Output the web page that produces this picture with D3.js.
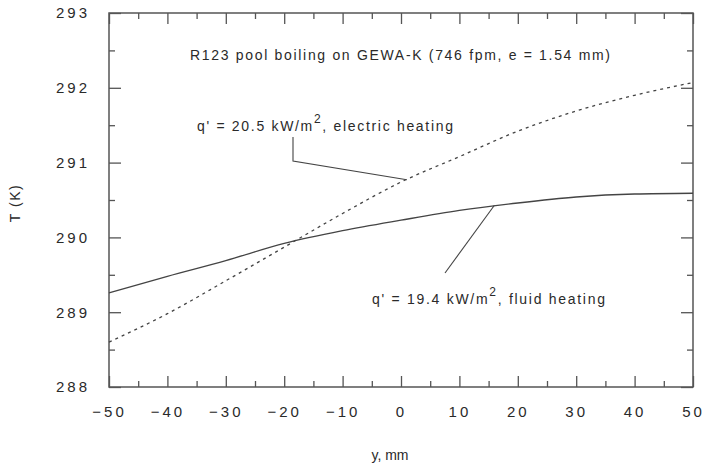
<!DOCTYPE html>
<html>
<head>
<meta charset="utf-8">
<script src="https://cdn.jsdelivr.net/npm/d3@7"></script>
<style>
  body { margin: 0; background: #fff; }
  svg { display: block; }
  text { font-family: "Liberation Sans", Arial, sans-serif; fill: #2a2a2a; }
  .tick text { font-size: 15px; letter-spacing: 3px; }
  .axis path { display: none; }
  .axis line { stroke: #555; stroke-width: 1.3; }
</style>
</head>
<body>
<svg width="702" height="466"></svg>
<script>
// position along the tube, mm
var positions = [-50, -40, -30, -20, -10, 0, 10, 20, 30, 40, 50];
// wall temperature, K - fluid heating (solid line)
var fluidT = [289.26, 289.48, 289.69, 289.92, 290.09, 290.23, 290.36, 290.46, 290.54, 290.58, 290.59];
// wall temperature, K - electric heating (dotted line)
var electricT = [288.60, 288.98, 289.42, 289.87, 290.32, 290.74, 291.08, 291.42, 291.69, 291.90, 292.07];

var xTicks = [-50, -40, -30, -20, -10, 0, 10, 20, 30, 40, 50];
var yTicks = [288, 289, 290, 291, 292, 293];

var svg = d3.select("svg");

var x = d3.scaleLinear().domain([-50, 50]).range([109, 693]);
var y = d3.scaleLinear().domain([288, 293]).range([387, 13]);

// minor ticks halfway between the major ones
var xMinor = xTicks.slice(0, -1).map(function (d) { return d + 5; });
var yMinor = yTicks.slice(0, -1).map(function (d) { return d + 0.5; });

// frame
svg.append("rect")
  .attr("x", x(-50)).attr("y", y(293))
  .attr("width", x(50) - x(-50)).attr("height", y(288) - y(293))
  .attr("fill", "none").attr("stroke", "#555").attr("stroke-width", 1.5);

// bottom axis with labels, ticks pointing inward
svg.append("g").attr("class", "axis")
  .attr("transform", "translate(0," + y(288) + ")")
  .call(d3.axisBottom(x).tickValues(xTicks).tickSize(-11).tickPadding(19));
svg.append("g").attr("class", "axis")
  .attr("transform", "translate(0," + y(288) + ")")
  .call(d3.axisBottom(x).tickValues(xMinor).tickSize(-6).tickFormat(""));
// top axis, ticks only
svg.append("g").attr("class", "axis")
  .attr("transform", "translate(0," + y(293) + ")")
  .call(d3.axisTop(x).tickValues(xTicks).tickSize(-11).tickFormat(""));
svg.append("g").attr("class", "axis")
  .attr("transform", "translate(0," + y(293) + ")")
  .call(d3.axisTop(x).tickValues(xMinor).tickSize(-6).tickFormat(""));

// left axis with labels
svg.append("g").attr("class", "axis")
  .attr("transform", "translate(" + x(-50) + ",0)")
  .call(d3.axisLeft(y).tickValues(yTicks).tickSize(-12).tickPadding(19).tickFormat(d3.format("d")));
svg.append("g").attr("class", "axis")
  .attr("transform", "translate(" + x(-50) + ",0)")
  .call(d3.axisLeft(y).tickValues(yMinor).tickSize(-6).tickFormat(""));
// right axis, ticks only
svg.append("g").attr("class", "axis")
  .attr("transform", "translate(" + x(50) + ",0)")
  .call(d3.axisRight(y).tickValues(yTicks).tickSize(-12).tickFormat(""));
svg.append("g").attr("class", "axis")
  .attr("transform", "translate(" + x(50) + ",0)")
  .call(d3.axisRight(y).tickValues(yMinor).tickSize(-6).tickFormat(""));

// the two curves
function makeLine(values) {
  return d3.line()
    .x(function (d, i) { return x(positions[i]); })
    .y(function (d) { return y(d); })
    .curve(d3.curveMonotoneX)(values);
}

svg.append("path")
  .attr("d", makeLine(fluidT))
  .attr("fill", "none").attr("stroke", "#444").attr("stroke-width", 1.3);

svg.append("path")
  .attr("d", makeLine(electricT))
  .attr("fill", "none").attr("stroke", "#444").attr("stroke-width", 1.3)
  .attr("stroke-dasharray", "3,4");

// pointers from the labels to the curves
svg.append("path")
  .attr("d", d3.line()([[293, 137], [293, 161], [x(1), y(290.77)]]))
  .attr("fill", "none").attr("stroke", "#444").attr("stroke-width", 1.1);
svg.append("path")
  .attr("d", d3.line()([[445, 273], [x(16), y(290.43)]]))
  .attr("fill", "none").attr("stroke", "#444").attr("stroke-width", 1.1);

// title inside the plot
svg.append("text")
  .attr("x", 400).attr("y", 60)
  .attr("text-anchor", "middle")
  .attr("font-size", 14)
  .attr("textLength", 420).attr("lengthAdjust", "spacing")
  .text("R123 pool boiling on GEWA-K (746 fpm, e = 1.54 mm)");

// curve labels with superscript 2
function heatLabel(xPos, yPos, width, value, kind) {
  var t = svg.append("text")
    .attr("x", xPos).attr("y", yPos)
    .attr("font-size", 14)
    .attr("textLength", width).attr("lengthAdjust", "spacing");
  t.append("tspan").text("q' = " + value + " kW/m");
  t.append("tspan").attr("dy", -8).attr("font-size", 12).text("2");
  t.append("tspan").attr("dy", 8).text(", " + kind);
}
heatLabel(197, 131, 256, "20.5", "electric heating");
heatLabel(372, 304, 233, "19.4", "fluid heating");

// axis titles
svg.append("text")
  .attr("transform", "translate(20,203) rotate(-90)")
  .attr("text-anchor", "middle")
  .attr("font-size", 14).attr("letter-spacing", 1.5)
  .text("T (K)");

svg.append("text")
  .attr("x", 390).attr("y", 460)
  .attr("text-anchor", "middle")
  .attr("font-size", 14)
  .text("y, mm");
</script>
</body>
</html>
